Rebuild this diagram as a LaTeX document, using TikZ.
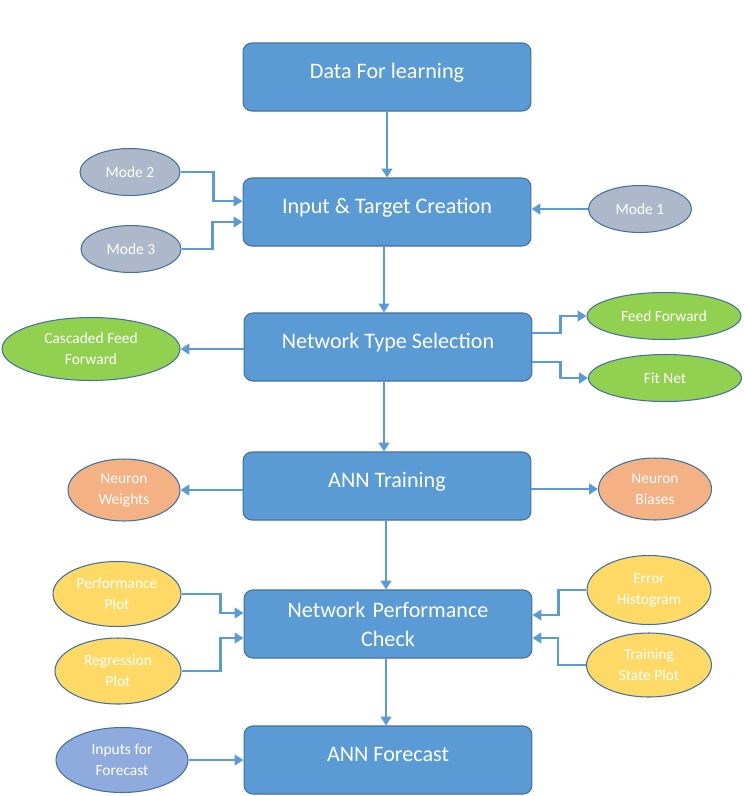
\documentclass[tikz,border=0pt]{standalone}
\usepackage{fontspec}
\setmainfont{Carlito}
\usetikzlibrary{shapes.geometric,arrows.meta,calc}
\definecolor{boxblue}{HTML}{5B9BD5}
\definecolor{edgeblue}{HTML}{41719C}
\definecolor{ngrey}{HTML}{ADB9CA}
\definecolor{ngreen}{HTML}{92D050}
\definecolor{norange}{HTML}{F4B183}
\definecolor{nyellow}{HTML}{FFD966}
\definecolor{nblue}{HTML}{8FAADC}
\tikzset{
  mainbox/.style={draw=edgeblue, line width=0.6pt, fill=boxblue, rounded corners=5pt,
    minimum width=5.76cm, minimum height=1.36cm, inner sep=2pt, text=white,
    align=center, font=\fontsize{12.6}{16.4}\selectfont},
  oneline/.style={text height=9pt, text depth=7pt},
  oval/.style={ellipse, draw=edgeblue, line width=0.6pt, inner sep=0pt, text=white,
    align=center, font=\fontsize{8.8}{11.8}\selectfont},
  arr/.style={draw=boxblue, line width=1.2pt, -{Triangle[length=5pt,width=6pt]}},
}
\begin{document}
\begin{tikzpicture}[x=0.02cm,y=-0.02cm]
\useasboundingbox (0,0) rectangle (744,796);
% main boxes
\node[mainbox, oneline] (data) at (387,77) {Data For learning};
\node[mainbox, oneline] (inp) at (387,212) {Input \& Target Creation};
\node[mainbox, oneline] (net) at (388,347) {Network Type Selection};
\node[mainbox, oneline] (ann) at (387,486) {ANN Training};
\node[mainbox, text width=5cm] (perf) at (388,624) {Network Performance\\Check};
\node[mainbox, oneline] (fc) at (388,760) {ANN Forecast};
% ellipses
\node[oval, fill=ngrey, minimum width=2.0cm, minimum height=0.94cm] (m2) at (130,172) {Mode 2};
\node[oval, fill=ngrey, minimum width=2.0cm, minimum height=0.94cm] (m3) at (131,249) {Mode 3};
\node[oval, fill=ngrey, minimum width=2.06cm, minimum height=0.94cm] (m1) at (640,209) {Mode 1};
\node[oval, fill=ngreen, minimum width=3.56cm, minimum height=1.26cm] (cff) at (91,349) {Cascaded Feed\\Forward};
\node[oval, fill=ngreen, minimum width=3.08cm, minimum height=0.94cm] (ff) at (664,316) {Feed Forward};
\node[oval, fill=ngreen, minimum width=3.06cm, minimum height=0.94cm] (fit) at (665,378) {Fit Net};
\node[oval, fill=norange, minimum width=2.24cm, minimum height=1.24cm] (nw) at (124,490) {Neuron\\Weights};
\node[oval, fill=norange, minimum width=2.26cm, minimum height=1.24cm] (nb) at (655,489) {Neuron\\Biases};
\node[oval, fill=nyellow, minimum width=2.56cm, minimum height=1.3cm] (pp) at (117,594) {Performance\\Plot};
\node[oval, fill=nyellow, minimum width=2.52cm, minimum height=1.32cm] (rp) at (118,671) {Regression\\Plot};
\node[oval, fill=nyellow, minimum width=2.48cm, minimum height=1.38cm] (eh) at (649,590) {Error\\Histogram};
\node[oval, fill=nyellow, minimum width=2.5cm, minimum height=1.28cm] (ts) at (649,665) {Training\\State Plot};
\node[oval, fill=nblue, minimum width=2.64cm, minimum height=1.3cm] (ifc) at (122,760) {Inputs for\\Forecast};
% connectors
\draw[arr] (data.south) -- (inp.north);
\draw[arr] (m2.east) -- ++(33,0) |- ($(inp.west)+(0,-11)$);
\draw[arr] (m3.east) -- ++(31,0) |- ($(inp.west)+(0,10)$);
\draw[arr] (m1.west) -- (inp.east |- m1.west);
\draw[arr] ($(inp.south)+(-3,0)$) -- ($(net.north)+(-4,0)$);
\draw[arr] (net.west |- cff.east) -- (cff.east);
\draw[arr] ($(net.east)+(0,-14)$) -- ++(28,0) |- (ff.west);
\draw[arr] ($(net.east)+(0,15)$) -- ++(28,0) |- (fit.west);
\draw[arr] ($(net.south)+(-4,0)$) -- ($(ann.north)+(-3,0)$);
\draw[arr] (ann.west |- nw.east) -- (nw.east);
\draw[arr] (ann.east |- nb.west) -- (nb.west);
\draw[arr] ($(ann.south)+(-1,0)$) -- ($(perf.north)+(-2,0)$);
\draw[arr] (pp.east) -- ++(39,0) |- ($(perf.west)+(0,-11)$);
\draw[arr] (rp.east) -- ++(39,0) |- ($(perf.west)+(0,14)$);
\draw[arr] (eh.west) -- ++(-28,0) |- ($(perf.east)+(0,-9)$);
\draw[arr] (ts.west) -- ++(-28,0) |- ($(perf.east)+(0,14)$);
\draw[arr] ($(perf.south)+(-2,0)$) -- ($(fc.north)+(-2,0)$);
\draw[arr] (ifc.east) -- (fc.west |- ifc.east);
\end{tikzpicture}
\end{document}
